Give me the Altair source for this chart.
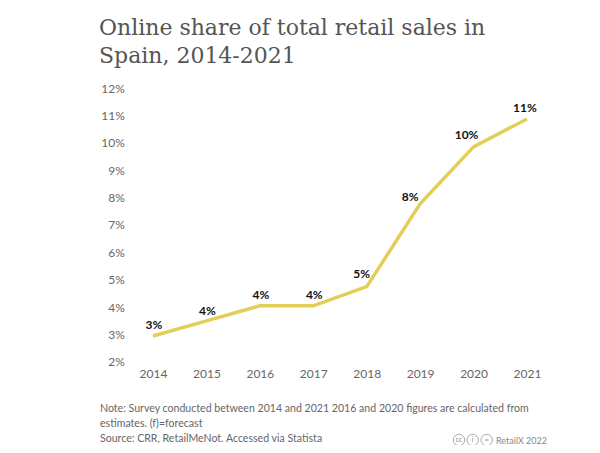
import altair as alt
import pandas as pd

years = ["2014", "2015", "2016", "2017", "2018", "2019", "2020", "2021"]
shares = [2.95, 3.5, 4.05, 4.05, 4.75, 7.77, 9.85, 10.87]
labels = ["3%", "4%", "4%", "4%", "5%", "8%", "10%", "11%"]
y_ticks = [2, 3, 4, 5, 6, 7, 8, 9, 10, 11, 12]
title_lines = ["Online share of total retail sales in", "Spain, 2014-2021"]
note_lines = [
    "Note: Survey conducted between 2014 and 2021 2016 and 2020 figures are calculated from",
    "estimates. (f)=forecast",
    "Source: CRR, RetailMeNot. Accessed via Statista",
]
credit = "RetailX 2022"
icon_text = ["cc", "i", "="]

BODY = "Lato"
PADX, PADY = 118.3, 80
OX, OY = PADX + 8, PADY + 8
df = pd.DataFrame({"year": years, "share": shares, "label": labels})

x = alt.X("year:N", sort=years, title=None,
          scale=alt.Scale(paddingInner=0, paddingOuter=0),
          axis=alt.Axis(labelAngle=0, labelColor="#666666", labelFont=BODY, labelFontSize=12,
                        ticks=False, domain=False, grid=False, labelPadding=7))
y = alt.Y("share:Q", title=None,
          scale=alt.Scale(domain=[2, 12], nice=False, zero=False),
          axis=alt.Axis(values=y_ticks, labelExpr="datum.value + '%'", labelColor="#666666",
                        labelFont=BODY, labelFontSize=12, ticks=False, domain=False,
                        grid=False, labelPadding=2))

line = alt.Chart(df).mark_line(color="#e3cf57", strokeWidth=3.5, strokeJoin="miter").encode(x=x, y=y)

def value_label(year, dx, dy):
    return alt.Chart(df[df.year == year]).mark_text(
        font=BODY, fontSize=12, fontWeight="bold", color="#111111", dx=dx, dy=dy
    ).encode(x=x, y=y, text="label:N")

def txt(s, px, py, size, color, font=BODY, align="left"):
    return alt.Chart(pd.DataFrame({"t": [s]})).mark_text(
        font=font, fontSize=size, color=color, align=align, baseline="alphabetic"
    ).encode(x=alt.value(px - OX), y=alt.value(py - OY), text="t:N")

layers = [
    line,
    value_label("2014", 1, -11),
    value_label("2015", 1, -10),
    value_label("2016", 1, -11),
    value_label("2017", 1, -11),
    value_label("2018", -5, -13),
    value_label("2019", -10, -7),
    value_label("2020", -7, -12),
    value_label("2021", -2, -11),
]
for s, py in zip(title_lines, [35, 63]):
    layers.append(txt(s, 99, py, 22, "#555555", font="DejaVu Serif"))
for s, py in zip(note_lines, [412, 427, 442]):
    layers.append(txt(s, 100, py, 10.6, "#666666"))
layers.append(txt(credit, 496, 444, 9, "#888888"))
for cx, s in zip([459, 472.7, 486.7], icon_text):
    layers.append(alt.Chart(pd.DataFrame({"t": [s]})).mark_point(
        shape="circle", size=130, color="#888888", strokeWidth=1, filled=False
    ).encode(x=alt.value(cx - OX), y=alt.value(440 - OY)))
    layers.append(txt(s, cx, 442, 7, "#888888", align="center"))

chart = alt.layer(*layers).resolve_scale(x="shared", y="shared").properties(
    width=427.4, height=274,
    autosize=alt.AutoSizeParams(type="none"),
    padding={"left": PADX, "top": PADY, "right": 38, "bottom": 83},
    background="white",
).configure_view(stroke=None)

chart.save("out.html", embed_options={"renderer": "svg", "actions": False})
